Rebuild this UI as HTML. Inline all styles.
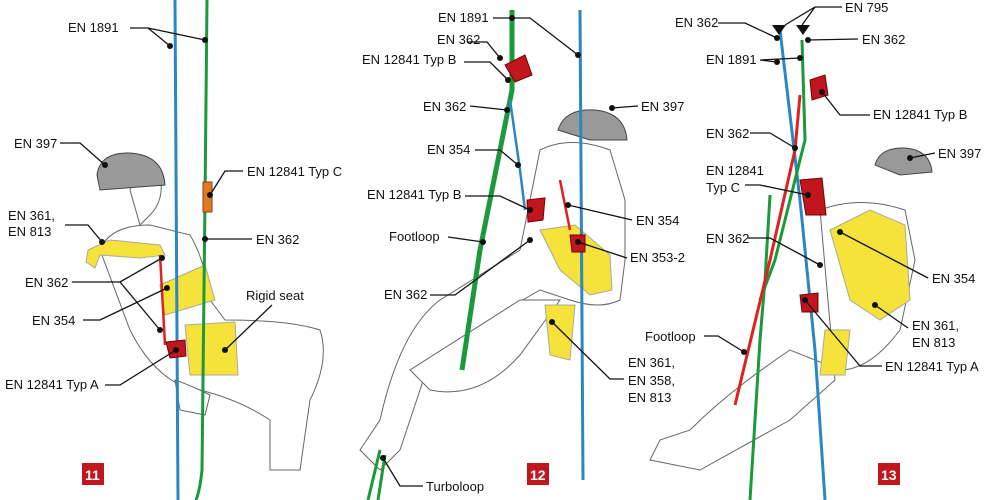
<!DOCTYPE html>
<html><head><meta charset="utf-8"><style>
html,body{margin:0;padding:0;background:#fff;}
svg{display:block;}
text{font-family:"Liberation Sans",sans-serif;font-size:13px;fill:#111;}
.l{stroke:#111;stroke-width:1.3;fill:none;}
.o{stroke:#666;stroke-width:1;fill:#fff;}
.n text{fill:#fff;font-weight:bold;font-size:14px;}
</style></head><body>
<svg width="990" height="500" viewBox="0 0 990 500" xmlns="http://www.w3.org/2000/svg">
<!-- ===== Panel 11 figure ===== -->
<path class="o" d="M100,250 Q110,225 150,225 L190,235 Q205,260 210,300 L225,320 Q290,320 320,330 Q330,360 310,400 L300,470 L270,470 L270,420 Q240,400 200,390 L180,385 Q150,370 130,330 Z"/>
<path class="o" d="M130,190 Q140,160 160,175 Q165,200 150,215 L140,225 Z"/>
<path d="M97,175 Q100,152 130,153 Q163,155 165,185 L100,190 Z" fill="#9a9a9a" stroke="#444"/>
<path d="M88,250 L110,240 L160,245 L165,255 L140,258 L100,255 L95,268 L86,262 Z" fill="#f5e23a" stroke="#aa9"/>
<path d="M160,285 L205,265 L215,300 L165,315 Z" fill="#f5e23a" stroke="#aa9"/>
<path d="M185,325 L235,322 L238,375 L190,375 Z" fill="#f5e23a" stroke="#aa9"/>
<path d="M175,380 Q190,385 210,395 L205,415 L180,410 Z" class="o"/>
<line x1="175" y1="0" x2="178" y2="500" stroke="#2a86c4" stroke-width="3"/>
<path d="M207,0 L205,200 L202,470 Q200,490 196,500" stroke="#1a9a3a" stroke-width="3" fill="none"/>
<rect x="203" y="182" width="9" height="30" fill="#e07a1a" stroke="#933"/>
<path d="M160,255 L165,345" stroke="#d22" stroke-width="2.5"/>
<path d="M166,342 L185,340 L186,356 L170,358 Z" fill="#c1161e" stroke="#700"/>
<g class="l">
<path d="M130,28 L148,28 L170,46 M148,28 L205,40"/>
<path d="M60,143 L80,143 L105,165"/>
<path d="M243,171 L225,171 L210,195"/>
<path d="M65,225 L88,225 L102,242"/>
<path d="M252,239 L205,239"/>
<path d="M72,282 L120,282 L160,330 M120,282 L162,258"/>
<path d="M83,320 L100,320 L167,288"/>
<path d="M272,305 L225,350"/>
<path d="M105,385 L120,385 L176,350"/>
</g>
<g fill="#111"><circle cx="170" cy="46" r="3"/><circle cx="205" cy="40" r="3"/><circle cx="105" cy="165" r="3"/><circle cx="210" cy="195" r="3"/><circle cx="102" cy="242" r="3"/><circle cx="205" cy="239" r="3"/><circle cx="160" cy="330" r="3"/><circle cx="162" cy="258" r="3"/><circle cx="167" cy="288" r="3"/><circle cx="225" cy="350" r="3"/><circle cx="176" cy="350" r="3"/></g>
<text x="68" y="32">EN 1891</text>
<text x="14" y="148">EN 397</text>
<text x="247" y="176">EN 12841 Typ C</text>
<text x="8" y="220">EN 361,</text><text x="8" y="236">EN 813</text>
<text x="256" y="244">EN 362</text>
<text x="25" y="287">EN 362</text>
<text x="246" y="300">Rigid seat</text>
<text x="32" y="325">EN 354</text>
<text x="5" y="389">EN 12841 Typ A</text>
<g class="n"><rect x="82" y="463" width="22" height="22" fill="#c1161e"/><text x="85" y="480">11</text></g>

<!-- ===== Panel 12 figure ===== -->
<path class="o" d="M540,150 Q570,135 610,150 L625,200 L625,260 L620,300 Q600,310 570,300 L540,290 Q470,330 430,360 L400,450 L380,470 L360,450 L380,420 Q400,330 440,300 L520,250 Z"/>
<path class="o" d="M520,300 L560,300 L520,355 Q480,400 430,390 L410,370 Z"/>
<path d="M558,130 Q565,108 595,110 Q625,113 627,140 L590,140 Z" fill="#999" stroke="#444"/>
<path d="M540,230 L575,225 L610,255 L612,290 L590,295 L560,270 Z" fill="#f5e23a" stroke="#aa9"/>
<path d="M545,305 L575,305 L570,360 L550,355 Z" fill="#f5e23a" stroke="#aa9"/>
<line x1="580" y1="10" x2="583" y2="480" stroke="#2a86c4" stroke-width="3"/>
<path d="M512,10 L512,90 L500,150 L480,250 L462,370" stroke="#1a9a3a" stroke-width="5" fill="none"/>
<path d="M510,100 L520,170 L525,210" stroke="#2a86c4" stroke-width="2.5" fill="none"/>
<path d="M560,180 L570,230" stroke="#d22" stroke-width="2.5"/>
<path d="M505,65 L525,55 L532,75 L515,82 Z" fill="#c1161e" stroke="#700"/>
<path d="M527,200 L545,198 L543,220 L528,222 Z" fill="#c1161e" stroke="#700"/>
<path d="M570,235 L585,235 L585,252 L572,252 Z" fill="#c1161e" stroke="#700"/>
<path d="M380,450 L368,500 M385,455 L378,500" stroke="#1a9a3a" stroke-width="3"/>
<g class="l">
<path d="M493,18 L512,18 M493,18 L530,18 L578,55"/>
<path d="M467,42 L487,42 L500,58"/>
<path d="M464,62 L490,62 L508,80"/>
<path d="M470,106 L507,110"/>
<path d="M638,106 L612,108"/>
<path d="M475,150 L500,150 L518,165"/>
<path d="M465,196 L500,196 L530,210"/>
<path d="M632,220 L568,205"/>
<path d="M448,237 L483,242"/>
<path d="M627,258 L578,242"/>
<path d="M430,295 L455,295 L530,240"/>
<path d="M624,379 L610,379 L552,322"/>
<path d="M423,486 L400,486 L383,458"/>
</g>
<g fill="#111"><circle cx="512" cy="18" r="3"/><circle cx="578" cy="55" r="3"/><circle cx="500" cy="58" r="3"/><circle cx="508" cy="80" r="3"/><circle cx="507" cy="110" r="3"/><circle cx="612" cy="108" r="3"/><circle cx="518" cy="165" r="3"/><circle cx="530" cy="210" r="3"/><circle cx="568" cy="205" r="3"/><circle cx="483" cy="242" r="3"/><circle cx="578" cy="242" r="3"/><circle cx="530" cy="240" r="3"/><circle cx="552" cy="322" r="3"/><circle cx="383" cy="458" r="3"/></g>
<text x="438" y="22">EN 1891</text>
<text x="437" y="44">EN 362</text>
<text x="362" y="64">EN 12841 Typ B</text>
<text x="423" y="111">EN 362</text>
<text x="641" y="111">EN 397</text>
<text x="427" y="154">EN 354</text>
<text x="367" y="199">EN 12841 Typ B</text>
<text x="636" y="225">EN 354</text>
<text x="389" y="241">Footloop</text>
<text x="630" y="262">EN 353-2</text>
<text x="384" y="299">EN 362</text>
<text x="628" y="367">EN 361,</text><text x="628" y="385">EN 358,</text><text x="628" y="402">EN 813</text>
<text x="426" y="491">Turboloop</text>
<g class="n"><rect x="527" y="463" width="22" height="22" fill="#c1161e"/><text x="530" y="480">12</text></g>

<!-- ===== Panel 13 figure ===== -->
<path class="o" d="M820,210 Q860,195 905,210 L915,260 L900,330 Q870,370 840,370 L790,350 Q730,390 690,430 L660,440 L650,460 L700,470 L790,420 L835,380 Z"/>
<path d="M875,165 Q880,147 905,148 Q930,150 932,172 L900,175 Z" fill="#999" stroke="#444"/>
<path d="M830,230 L870,210 L905,225 L910,300 L880,320 L850,300 Z" fill="#f5e23a" stroke="#aa9"/>
<path d="M825,330 L850,330 L845,375 L820,375 Z" fill="#f5e23a" stroke="#aa9"/>
<path d="M780,30 L800,200 L815,350 L825,500" stroke="#2a86c4" stroke-width="3" fill="none"/>
<path d="M802,40 L805,140 L790,200 L775,260 L760,300" stroke="#1a9a3a" stroke-width="3" fill="none"/>
<path d="M770,195 L765,280 L760,340 L750,500" stroke="#1a9a3a" stroke-width="3" fill="none"/>
<path d="M800,95 L795,150 L770,260 L735,405" stroke="#d22" stroke-width="3" fill="none"/>
<path d="M810,80 L825,75 L828,95 L812,100 Z" fill="#c1161e" stroke="#700"/>
<path d="M800,180 L822,178 L826,215 L806,215 Z" fill="#c1161e" stroke="#700"/>
<path d="M800,295 L818,293 L818,312 L802,312 Z" fill="#c1161e" stroke="#700"/>
<path d="M772,25 L786,25 L779,35 Z M796,25 L810,25 L803,35 Z" fill="#111"/>
<g class="l">
<path d="M718,23 L745,23 L777,38"/>
<path d="M842,7 L815,7 L785,25 M815,7 L802,25"/>
<path d="M858,39 L808,40"/>
<path d="M760,60 L777,62 M760,60 L800,58"/>
<path d="M870,115 L840,115 L822,92"/>
<path d="M750,133 L770,133 L795,148"/>
<path d="M935,153 L910,158"/>
<path d="M745,185 L760,185 L808,195"/>
<path d="M748,238 L770,238 L820,265"/>
<path d="M928,278 L840,232"/>
<path d="M704,336 L718,336 L744,352"/>
<path d="M908,328 L875,305"/>
<path d="M882,366 L860,366 L805,300"/>
</g>
<g fill="#111"><circle cx="777" cy="38" r="3"/><circle cx="808" cy="40" r="3"/><circle cx="777" cy="62" r="3"/><circle cx="800" cy="58" r="3"/><circle cx="822" cy="92" r="3"/><circle cx="795" cy="148" r="3"/><circle cx="910" cy="158" r="3"/><circle cx="808" cy="195" r="3"/><circle cx="820" cy="265" r="3"/><circle cx="840" cy="232" r="3"/><circle cx="744" cy="352" r="3"/><circle cx="875" cy="305" r="3"/><circle cx="805" cy="300" r="3"/></g>
<text x="675" y="27">EN 362</text>
<text x="845" y="12">EN 795</text>
<text x="862" y="44">EN 362</text>
<text x="706" y="64">EN 1891</text>
<text x="873" y="119">EN 12841 Typ B</text>
<text x="706" y="138">EN 362</text>
<text x="938" y="158">EN 397</text>
<text x="706" y="175">EN 12841</text><text x="706" y="192">Typ C</text>
<text x="706" y="243">EN 362</text>
<text x="932" y="283">EN 354</text>
<text x="645" y="341">Footloop</text>
<text x="912" y="330">EN 361,</text><text x="912" y="347">EN 813</text>
<text x="885" y="371">EN 12841 Typ A</text>
<g class="n"><rect x="878" y="463" width="22" height="22" fill="#c1161e"/><text x="881" y="480">13</text></g>
</svg>
</body></html>
